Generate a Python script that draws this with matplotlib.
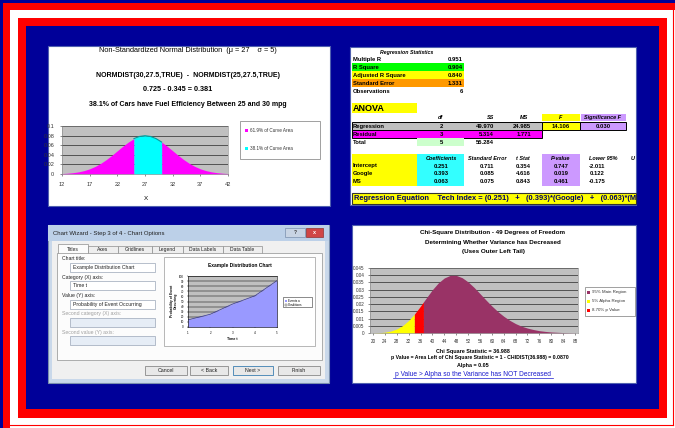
import numpy as np
import matplotlib
matplotlib.use("Agg")
import matplotlib.pyplot as plt
from matplotlib.patches import Rectangle

plt.rcParams['font.family'] = ['Liberation Sans', 'DejaVu Sans']

W, H = 675, 428
NAVY = '#000099'
RED = '#ff0000'

# normal distribution (mu=27, sigma=5)
norm_x = list(range(12, 43))
norm_y = [0.0009, 0.0016, 0.0027, 0.0045, 0.0071, 0.0108, 0.0158, 0.0222, 0.0299, 0.0388,
          0.0484, 0.0579, 0.0666, 0.0737, 0.0782, 0.0798, 0.0782, 0.0737, 0.0666, 0.0579,
          0.0484, 0.0388, 0.0299, 0.0222, 0.0158, 0.0108, 0.0071, 0.0045, 0.0027, 0.0016, 0.0009]
norm_lo, norm_hi = 25, 30
norm_xticks = [12, 17, 22, 27, 32, 37, 42]
norm_yticks = [0, 0.02, 0.04, 0.06, 0.08, 0.1]
norm_ylabels = ['0', '0.02', '0.04', '0.06', '0.08', '0.1']
norm_legend = ['61.9% of Curve Area', '38.1% of Curve Area']

# chi-square, 49 df
chi_x = list(range(20, 89, 2))
chi_y = [0.00006, 0.00019, 0.00054, 0.00132, 0.00278, 0.00516, 0.00865, 0.0132, 0.0186, 0.0244,
         0.0300, 0.0347, 0.0381, 0.0399, 0.0399, 0.0383, 0.0354, 0.0316, 0.0273, 0.0229,
         0.0187, 0.0149, 0.0116, 0.0088, 0.0065, 0.0047, 0.0034, 0.0024, 0.0016, 0.0011,
         0.0007, 0.0005, 0.0003, 0.0002, 0.0001]
chi_crit, chi_crit_y = 33.93, 0.0131
chi_stat, chi_stat_y = 36.988, 0.0215
chi_xticks = list(range(20, 89, 4))
chi_yticks = [0, 0.005, 0.01, 0.015, 0.02, 0.025, 0.03, 0.035, 0.04, 0.045]
chi_ylabels = ['0', '0.005', '0.01', '0.015', '0.02', '0.025', '0.03', '0.035', '0.04', '0.045']
chi_legend = ['95% Main Region', '5% Alpha Region', '8.70% p Value']

# chart wizard preview
prev_x = [1, 2, 3, 4, 5]
prev_y = [14, 25, 45, 61, 91]

# regression output
stat_labels = ['Multiple R', 'R Square', 'Adjusted R Square', 'Standard Error', 'Observations']
stat_values = ['0.951', '0.904', '0.840', '1.331', '6']
anova_labels = ['Regression', 'Residual', 'Total']
anova_df = ['2', '3', '5']
anova_ss = ['49.970', '5.314', '55.284']
anova_ms = ['24.985', '1.771', '']
anova_f = '14.106'
anova_sig = '0.030'
coef_labels = ['Intercept', 'Google', 'MS']
coef_vals = ['0.251', '0.393', '0.063']
coef_se = ['0.711', '0.085', '0.075']
coef_t = ['0.354', '4.616', '0.843']
coef_p = ['0.747', '0.019', '0.461']
coef_low = ['-2.011', '0.122', '-0.175']

fig = plt.figure(figsize=(W / 100, H / 100), dpi=100)
bg = fig.add_axes([0, 0, 1, 1])
bg.set_xlim(0, W)
bg.set_ylim(H, 0)
bg.axis('off')
rend = fig.canvas.get_renderer()


def box(x0, y0, x1, y1, fc, ec='none', lw=0.6, z=2):
    p = Rectangle((x0, y0), x1 - x0, y1 - y0, facecolor=fc, edgecolor=ec, linewidth=lw, zorder=z)
    bg.add_patch(p)
    return p


def txt(x, y, s, size=4.3, w=None, ha='center', **kw):
    t = bg.text(x, y, s, fontsize=size, ha=ha, va='center', zorder=6, **kw)
    if w:
        bb = t.get_window_extent(renderer=rend)
        t.set_fontsize(size * w / bb.width)
    return t


def px_axes(x0, y0, x1, y1):
    a = fig.add_axes([x0 / W, 1 - y1 / H, (x1 - x0) / W, (y1 - y0) / H])
    a.set_zorder(5)
    return a


# frame
box(0, 0, W, H, NAVY, z=0)
box(3, 3, W + 5, H + 5, RED, z=0)
box(10, 10, W + 5, H + 5, 'white', z=0)
bg.plot([672.5, 672.5], [10, 425], color=RED, lw=0.8, zorder=0)
bg.plot([10, 672.5], [425, 425], color=RED, lw=0.8, zorder=0)
box(18, 18, 667, 418, RED, z=0)
box(26, 26, 659, 409, NAVY, z=0)

# ---------- panel 1: normal distribution ----------
p1 = box(48, 46, 330, 206, 'white', '#5060b0', 0.8, z=1)
txt(188, 50, 'Non-Standardized Normal Distribution  (\u03bc = 27    \u03c3 = 5)', 5, w=183)
txt(188, 75, 'NORMDIST(30,27.5,TRUE)  -  NORMDIST(25,27.5,TRUE)', 5, w=187, weight='bold')
txt(178, 89, '0.725 - 0.345 = 0.381', 5.2, weight='bold')
txt(188, 104, '38.1% of Cars have Fuel Efficiency Between 25 and 30 mpg', 5, w=201, weight='bold')

ax1 = px_axes(62, 126, 228, 174)
nx, ny = np.array(norm_x), np.array(norm_y)
ax1.set_facecolor('#c0c0c0')
ax1.fill_between(nx[nx <= norm_lo], ny[nx <= norm_lo], color='#ff00ff', lw=0)
ax1.fill_between(nx[nx >= norm_hi], ny[nx >= norm_hi], color='#ff00ff', lw=0)
mid = (nx >= norm_lo) & (nx <= norm_hi)
ax1.fill_between(nx[mid], ny[mid], color='#00ffff', lw=0)
ax1.plot(nx[mid], ny[mid], color='#00a0a0', lw=0.8)
ax1.set_xlim(12, 42)
ax1.set_ylim(0, 0.1)
ax1.set_xticks(norm_xticks)
ax1.set_yticks(norm_yticks, norm_ylabels)
ax1.grid(axis='y', color='black', lw=0.4)
ax1.set_axisbelow(True)
ax1.tick_params(labelsize=4, length=1.5, width=0.4, pad=4, colors='#333333')
for s in ax1.spines.values():
    s.set_linewidth(0.4)
    s.set_color('#808080')
txt(146, 198, 'X', 4.5)
box(240, 121, 320, 159, 'white', '#909090', 0.6, z=2)
for i, (lab, c) in enumerate(zip(norm_legend, ['#ff00ff', '#00ffff'])):
    yy = 130 + i * 18
    box(245, yy - 1.5, 248, yy + 1.5, c, z=3)
    txt(250, yy, lab, 3.3, ha='left', color='#333333')

# ---------- panel 2: regression output ----------
p2 = box(350, 47, 636, 205, 'white', '#5060b0', 0.8, z=1)
txt(407, 52, 'Regression Statistics', 3.8, style='italic', weight='bold')
stat_bg = [None, '#00ff00', '#ffff00', '#ff9900', None]
for i, lab in enumerate(stat_labels):
    yy = 59 + i * 8
    if stat_bg[i]:
        box(352, yy - 4, 464, yy + 4, stat_bg[i], z=2)
    txt(353, yy, lab, 4.2, ha='left', weight='bold')
    txt(463, yy, stat_values[i], 4.2, ha='right', weight='bold')

box(352, 103, 417, 113, '#ffff00', z=2)
txt(353, 108, 'ANOVA', 6.5, ha='left', weight='bold')
box(542, 114, 580, 121, '#ffff00', z=2)
box(581, 114, 626, 121, '#cc99ff', z=2)
for x, s in zip([440, 491, 524, 561, 603], ['df', 'SS', 'MS', 'F', 'Significance F']):
    txt(x, 117.5, s, 4.0, weight='bold', style='italic')
box(352, 122, 542, 130, '#c0c0c0', 'black', 0.7, z=2)
box(542, 122, 580, 130, '#ffff00', 'black', 0.7, z=2)
box(580, 122, 626, 130, '#cc99ff', 'black', 0.7, z=2)
box(352, 130, 542, 138, '#ff00ff', 'black', 0.7, z=2)
box(417, 138, 464, 146, '#ccffcc', z=2)
for i, lab in enumerate(anova_labels):
    yy = 126 + i * 8
    txt(353, yy, lab, 4.2, ha='left', weight='bold')
    txt(441, yy, anova_df[i], 4.2, weight='bold')
    txt(494, yy, anova_ss[i], 4.2, ha='right', weight='bold')
    txt(531, yy, anova_ms[i], 4.2, ha='right', weight='bold')
txt(561, 126, anova_f, 4.2, weight='bold')
txt(603, 126, anova_sig, 4.2, weight='bold')

box(352, 154, 417, 186, '#ffff00', z=2)
box(417, 154, 464, 186, '#33ffff', z=2)
box(542, 154, 580, 186, '#cc99ff', z=2)
heads = ['Coefficients', 'Standard Error', 't Stat', 'P-value', 'Lower 95%', 'U']
for x, s in zip([441, 487, 523, 561, 603, 633], heads):
    txt(x, 158, s, 4.0, weight='bold', style='italic')
for i, lab in enumerate(coef_labels):
    yy = 166 + i * 7.5
    txt(353, yy, lab, 4.2, ha='left', weight='bold')
    for x, col in zip([441, 487, 523, 561, 597], [coef_vals, coef_se, coef_t, coef_p, coef_low]):
        txt(x, yy, col[i], 4.2, weight='bold')
box(352, 193, 636, 204, '#ffff00', '#333333', 0.8, z=2)
# the screenshot is cut at the panel edge, mid-word
txt(354, 198.5, 'Regression Equation    Tech Index = (0.251)   +   (0.393)*(Google)   +   (0.063)*(M',
    5.8, w=280, ha='left', weight='bold', color='#000066')

# ---------- panel 3: chart wizard dialog ----------
box(48, 225, 329, 383, '#c9d8ea', '#7a8fae', 0.8, z=1)
box(48, 225, 329, 241, '#bcd0e8', z=1)
txt(53, 233.5, 'Chart Wizard - Step 3 of 4 - Chart Options', 4.3, ha='left', color='#202020')
box(285, 228, 305, 237, '#c8d4e4', '#7a8fae', 0.5, z=2)
txt(295, 232.5, '?', 3.5, weight='bold', color='#333333')
box(306, 228, 323, 237, '#d04545', '#903030', 0.5, z=2)
txt(314.5, 232.5, 'x', 4, weight='bold', color='white')
box(52, 241, 325, 379, '#f0f0f0', z=1)
tabs = ['Titles', 'Axes', 'Gridlines', 'Legend', 'Data Labels', 'Data Table']
tab_x = [58, 88, 118, 152, 183, 223, 262]
for i, s in enumerate(tabs):
    top = 244 if i == 0 else 246
    box(tab_x[i], top, tab_x[i + 1], 254, '#fbfbfb' if i == 0 else '#eeeeee', '#8e8f8f', 0.5, z=2)
    txt((tab_x[i] + tab_x[i + 1]) / 2, 249.5, s, 3.6, color='#222222')
box(57, 253, 322, 360, '#fcfcfc', '#8e8f8f', 0.5, z=2)
box(59, 253.5, 87, 255, '#fcfcfc', z=3)
fields = [('Chart title:', 'Example Distribution Chart', True),
          ('Category (X) axis:', 'Time t', True),
          ('Value (Y) axis:', 'Probability of Event Occurring', True),
          ('Second category (X) axis:', '', False),
          ('Second value (Y) axis:', '', False)]
for i, (lab, val, on) in enumerate(fields):
    yy = 259 + i * 18.3
    txt(62, yy, lab, 3.7, ha='left', color='#222222' if on else '#a0a0a0')
    box(70, yy + 4, 155, yy + 13, 'white' if on else '#e6edf6', '#9aa6b8', 0.5, z=3)
    if val:
        txt(73, yy + 8.5, val, 3.7, ha='left', color='#222222')
box(164, 257, 315, 346, 'white', '#9a9a9a', 0.5, z=3)
txt(240, 265.5, 'Example Distribution Chart', 3.5, weight='bold')
txt(174, 301, 'Probability of Event\nOccurring', 2.4, weight='bold', rotation=90, linespacing=1.0)
txt(232, 338.5, 'Time t', 2.6, weight='bold')
ax3 = px_axes(188, 276, 277, 327)
ax3.set_facecolor('#c0c0c0')
ax3.fill_between(prev_x, prev_y, color='#9999ff', lw=0)
ax3.plot(prev_x, prev_y, color='#333399', lw=0.5)
ax3.set_xlim(1, 5)
ax3.set_ylim(0, 100)
ax3.set_xticks(prev_x)
ax3.set_yticks(range(0, 101, 10))
ax3.grid(axis='y', color='black', lw=0.35)
ax3.set_axisbelow(True)
ax3.tick_params(labelsize=2.2, length=1, width=0.3, pad=2)
for s in ax3.spines.values():
    s.set_linewidth(0.4)
box(283, 297, 312, 307, 'white', '#333333', 0.4, z=4)
box(285, 299.5, 287, 301.5, '#9999ff', z=5)
txt(288, 300.5, 'Events a', 2.2, ha='left')
box(285, 303.5, 287, 305.5, 'white', '#333333', 0.3, z=5)
txt(288, 304.5, 'Conditions', 2.2, ha='left')
btns = [('Cancel', 145, 187), ('< Back', 190, 228), ('Next >', 233, 273), ('Finish', 278, 320)]
for s, x0, x1 in btns:
    box(x0, 366, x1, 375, '#e8e8e8', '#3c7fb1' if s == 'Next >' else '#8a8a8a', 0.6, z=3)
    txt((x0 + x1) / 2, 370.5, s, 3.8, color='#222222')

# ---------- panel 4: chi-square ----------
p4 = box(352, 225, 636, 383, 'white', '#5060b0', 0.8, z=1)
txt(493, 232, 'Chi-Square Distribution - 49 Degrees of Freedom', 4.5, weight='bold')
txt(493, 242, 'Determining Whether Variance has Decreased', 4.5, weight='bold')
txt(493, 251, '(Uses Outer Left Tail)', 4.5, weight='bold')

ax4 = px_axes(370, 268, 578, 333)
cx, cy = np.array(chi_x), np.array(chi_y)
ax4.set_facecolor('#c0c0c0')
m = cx < chi_crit
ax4.fill_between(np.r_[cx[m], chi_crit], np.r_[cy[m], chi_crit_y], color='#ffff00', lw=0)
m = (cx > chi_crit) & (cx < chi_stat)
ax4.fill_between(np.r_[chi_crit, cx[m], chi_stat], np.r_[chi_crit_y, cy[m], chi_stat_y], color=RED, lw=0)
m = cx > chi_stat
ax4.fill_between(np.r_[chi_stat, cx[m]], np.r_[chi_stat_y, cy[m]], color='#993366', lw=0)
ax4.set_xlim(19, 89)
ax4.set_ylim(0, 0.045)
ax4.set_xticks(chi_xticks)
ax4.set_yticks(chi_yticks, chi_ylabels)
ax4.grid(axis='y', color='black', lw=0.4)
ax4.set_axisbelow(True)
ax4.tick_params(labelsize=3.3, length=1.5, width=0.4, pad=2.5, colors='#333333')
for s in ax4.spines.values():
    s.set_linewidth(0.4)
    s.set_color('#808080')
box(585, 287, 635, 316, 'white', '#909090', 0.6, z=2)
for i, (lab, c) in enumerate(zip(chi_legend, ['#993366', '#ffff00', RED])):
    yy = 292 + i * 9
    box(587, yy - 1.5, 590, yy + 1.5, c, z=3)
    txt(592, yy, lab, 3.2, ha='left', color='#333333')
txt(473, 351, 'Chi Square Statistic = 36.988', 3.9, weight='bold')
txt(480, 357.5, 'p Value = Area Left of Chi Square Statistic = 1 - CHIDIST(36.988) = 0.0870', 4, w=174,
    weight='bold')
txt(473, 365.5, 'Alpha = 0.05', 3.9, weight='bold')
txt(473, 374, 'p Value > Alpha so the Variance has NOT Decreased', 5, w=160, color='#1a1acc')
bg.plot([393, 553], [377.5, 377.5], color='#1a1acc', lw=0.5, zorder=6)

fig.savefig('out.png', dpi=100)
